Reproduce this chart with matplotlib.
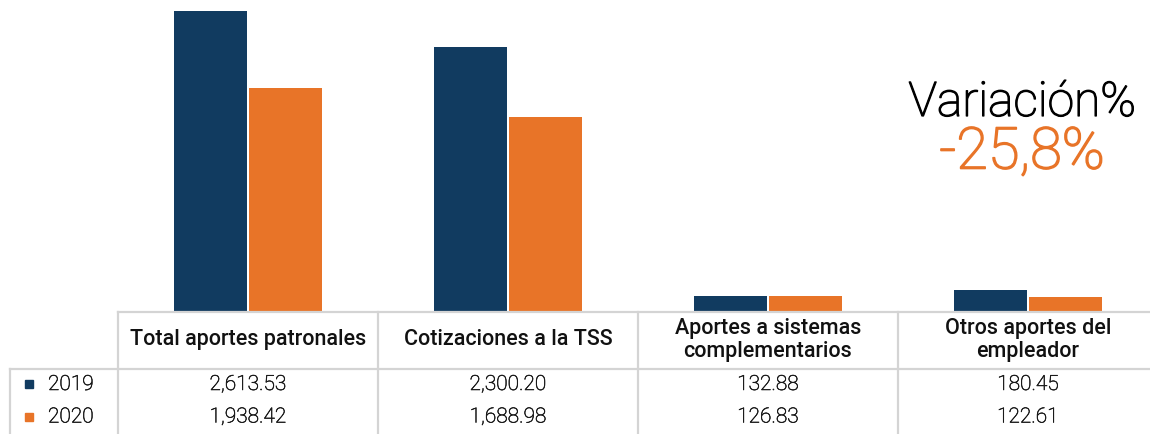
import matplotlib
matplotlib.use("Agg")
import matplotlib.pyplot as plt
import matplotlib.patheffects as pe
import numpy as np

categories = ["Total aportes patronales", "Cotizaciones a la TSS",
              "Aportes a sistemas\ncomplementarios", "Otros aportes del\nempleador"]
series_names = ["2019", "2020"]
values_2019 = [2613.53, 2300.20, 132.88, 180.45]
values_2020 = [1938.42, 1688.98, 126.83, 122.61]
labels_2019 = ["2,613.53", "2,300.20", "132.88", "180.45"]
labels_2020 = ["1,938.42", "1,688.98", "126.83", "122.61"]
variation_title = "Variación%"
variation_value = "-25,8%"

C_BLUE = "#113b60"
C_ORANGE = "#e87428"
C_GRID = "#d4d4d4"

plt.rcParams["font.family"] = ["Roboto", "DejaVu Sans"]

W, H = 1150, 434
fig = plt.figure(figsize=(W / 100, H / 100), dpi=100)

# Bar axes (pixel layout): x 118..1158, y 0..311
ax = fig.add_axes([118 / W, (H - 311) / H, (1158 - 118) / W, 311 / H])
x = np.arange(len(categories))
bw = 0.28
ax.bar(x - 0.143, values_2019, bw, color=C_BLUE)
ax.bar(x + 0.143, values_2020, bw, color=C_ORANGE)
ax.set_xlim(-0.5, len(categories) - 0.5)
ax.set_ylim(0, max(values_2019) * 311 / 300)
ax.axis("off")

# Table axes in pixel coordinates
tx = fig.add_axes([0, 0, 1, (H - 311) / H])
tx.set_xlim(0, W)
tx.set_ylim(H, 311)
tx.axis("off")

col_left = 118
col_w = 260
ncol = len(categories)
row_y = [312, 369, 400, 440]
lw = 1.6
tx.plot([col_left, col_left + ncol * col_w], [row_y[0], row_y[0]], color=C_GRID, lw=lw, clip_on=False)
tx.plot([10, col_left + ncol * col_w], [row_y[1], row_y[1]], color=C_GRID, lw=lw, clip_on=False)
for i in range(ncol + 1):
    xx = col_left + i * col_w
    tx.plot([xx, xx], [row_y[0], H + 5], color=C_GRID, lw=lw, clip_on=False)
tx.plot([10, 10], [row_y[1], H + 5], color=C_GRID, lw=lw, clip_on=False)

num_fx = [pe.withStroke(linewidth=0.4, foreground="#1a1a1a")]
for i, cat in enumerate(categories):
    cx = col_left + (i + 0.5) * col_w
    tx.text(cx, 340, cat, ha="center", va="center", fontsize=15.5,
            fontweight="medium", color="#111111", linespacing=1.1)
    tx.text(cx, 384.5, labels_2019[i], ha="center", va="center", fontsize=15,
            fontweight="light", color="#1a1a1a", path_effects=num_fx)
    tx.text(cx, 417, labels_2020[i], ha="center", va="center", fontsize=15,
            fontweight="light", color="#1a1a1a", path_effects=num_fx)

for yy, name, col in [(384.5, series_names[0], C_BLUE), (417, series_names[1], C_ORANGE)]:
    tx.add_patch(plt.Rectangle((25, yy - 4), 8, 8, color=col))
    tx.text(48, yy, name, ha="left", va="center", fontsize=15,
            fontweight="light", color="#1a1a1a", path_effects=num_fx)

fig.text(1022 / W, 1 - 103 / H, variation_title, ha="center", va="center",
         fontsize=34.5, fontweight="light", color="#000000",
         path_effects=[pe.withStroke(linewidth=0.9, foreground="#000000")])
fig.text(1022 / W, 1 - 153 / H, variation_value, ha="center", va="center",
         fontsize=41.5, fontweight="light", color=C_ORANGE,
         path_effects=[pe.withStroke(linewidth=1.2, foreground=C_ORANGE)])

fig.savefig("out.png", dpi=100)
